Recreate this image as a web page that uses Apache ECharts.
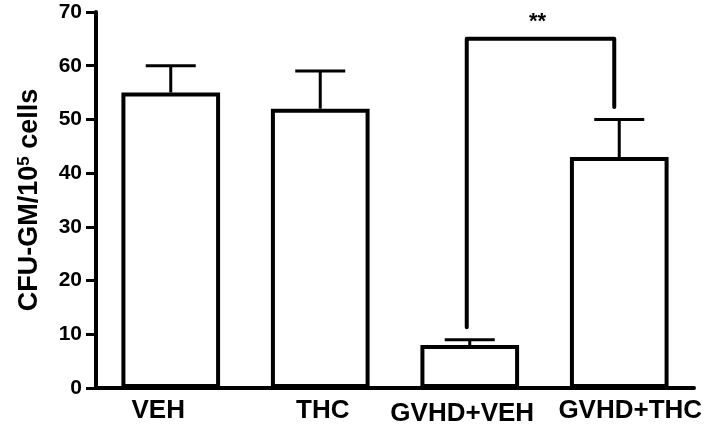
<!DOCTYPE html>
<html>
<head>
<meta charset="utf-8">
<script src="https://cdn.jsdelivr.net/npm/echarts@6/dist/echarts.min.js"></script>
<style>
  html, body { margin: 0; padding: 0; background: #fff; }
  #chart { width: 715px; height: 435px; }
</style>
</head>
<body>
<div id="chart"></div>
<script>
// Colony counts per group (mean and mean + SEM)
const categories = ['VEH', 'THC', 'GVHD+VEH', 'GVHD+THC'];
const means = [55, 52, 8, 43];
const upperErrors = [60, 59, 9, 50];
const yTicks = [0, 10, 20, 30, 40, 50, 60, 70];

// Significance bracket between GVHD+VEH and GVHD+THC
const bracketFrom = 2;
const bracketTo = 3;
const bracketTop = 65;
const bracketLeftEnd = 11.3;
const bracketRightEnd = 52.3;
const bracketLabel = '**';
const bracketLabelValue = 68.2;

const FONT = '"Liberation Sans", Arial, sans-serif';
const chart = echarts.init(document.getElementById('chart'));

// category label styles: each label sits slightly off its bar centre
const labelBase = { fontFamily: FONT, fontWeight: 'bold', fontSize: 26, color: '#000' };
const labelRich = {
  c0: Object.assign({}, labelBase, { padding: [0, 25, 0, 0] }),
  c1: Object.assign({}, labelBase, { padding: [0, 0, 0, 5] }),
  c2: Object.assign({}, labelBase, { padding: [3, 15, 0, 0] }),
  c3: Object.assign({}, labelBase, { padding: [0, 0, 0, 22] })
};

chart.setOption({
  animation: false,
  backgroundColor: '#fff',
  grid: { left: 96, right: 21, top: 12, bottom: 47, containLabel: false },
  xAxis: {
    type: 'category',
    data: categories,
    boundaryGap: true,
    axisLine: { lineStyle: { color: '#000', width: 4 } },
    axisTick: { show: false },
    axisLabel: {
      margin: 10, interval: 0,
      formatter: function (value, index) { return '{c' + index + '|' + value + '}'; },
      rich: labelRich
    },
    splitLine: { show: false }
  },
  yAxis: {
    type: 'value',
    min: yTicks[0],
    max: yTicks[yTicks.length - 1],
    interval: 10,
    name: '{a|CFU-GM/10}{s|5}{a| cells}',
    nameLocation: 'middle',
    nameGap: 52,
    nameRotate: 90,
    nameTextStyle: {
      rich: {
        a: { fontFamily: FONT, fontWeight: 'bold', fontSize: 27, color: '#000' },
        s: { fontFamily: FONT, fontWeight: 'bold', fontSize: 17, color: '#000', verticalAlign: 'top', padding: [0, 0, 11, 0] }
      }
    },
    axisLine: { show: true, lineStyle: { color: '#000', width: 4 } },
    axisTick: { show: true, length: 10, lineStyle: { color: '#000', width: 3 } },
    axisLabel: { color: '#000', fontFamily: FONT, fontWeight: 'bold', fontSize: 21, margin: 14 },
    splitLine: { show: false }
  },
  series: [
    {
      type: 'bar',
      data: means,
      barWidth: '66%',
      itemStyle: { color: '#fff', borderColor: '#000', borderWidth: 4 },
      z: 2
    },
    {
      // error bars: stem from bar top to upper value, with a cap
      type: 'custom',
      data: categories.map((c, i) => [i, means[i], upperErrors[i]]),
      renderItem: function (params, api) {
        const base = api.coord([api.value(0), api.value(1)]);
        const top = api.coord([api.value(0), api.value(2)]);
        const half = 25;
        const style = { stroke: '#000', lineWidth: 3 };
        return {
          type: 'group',
          children: [
            { type: 'line', shape: { x1: top[0], y1: base[1], x2: top[0], y2: top[1] }, style: style },
            { type: 'line', shape: { x1: top[0] - half, y1: top[1], x2: top[0] + half, y2: top[1] }, style: style }
          ]
        };
      },
      z: 3
    },
    {
      // significance bracket and its label
      type: 'custom',
      data: [[bracketFrom, bracketTo, bracketTop, bracketLeftEnd, bracketRightEnd, bracketLabelValue]],
      renderItem: function (params, api) {
        const l = api.coord([api.value(0), api.value(2)]);
        const r = api.coord([api.value(1), api.value(2)]);
        const lEnd = api.coord([api.value(0), api.value(3)]);
        const rEnd = api.coord([api.value(1), api.value(4)]);
        const lab = api.coord([api.value(0), api.value(5)]);
        const x1 = l[0] - 3, x2 = r[0] - 5;
        return {
          type: 'group',
          children: [
            {
              type: 'polyline',
              shape: { points: [[x1, lEnd[1]], [x1, l[1]], [x2, l[1]], [x2, rEnd[1]]] },
              style: { stroke: '#000', lineWidth: 4, fill: null, lineJoin: 'round', lineCap: 'round' }
            },
            {
              type: 'text',
              style: {
                text: bracketLabel, x: (x1 + x2) / 2 - 3, y: lab[1],
                align: 'center', verticalAlign: 'middle',
                font: 'bold 22px ' + FONT, fill: '#000'
              }
            }
          ]
        };
      },
      z: 4
    }
  ]
});
</script>
</body>
</html>
